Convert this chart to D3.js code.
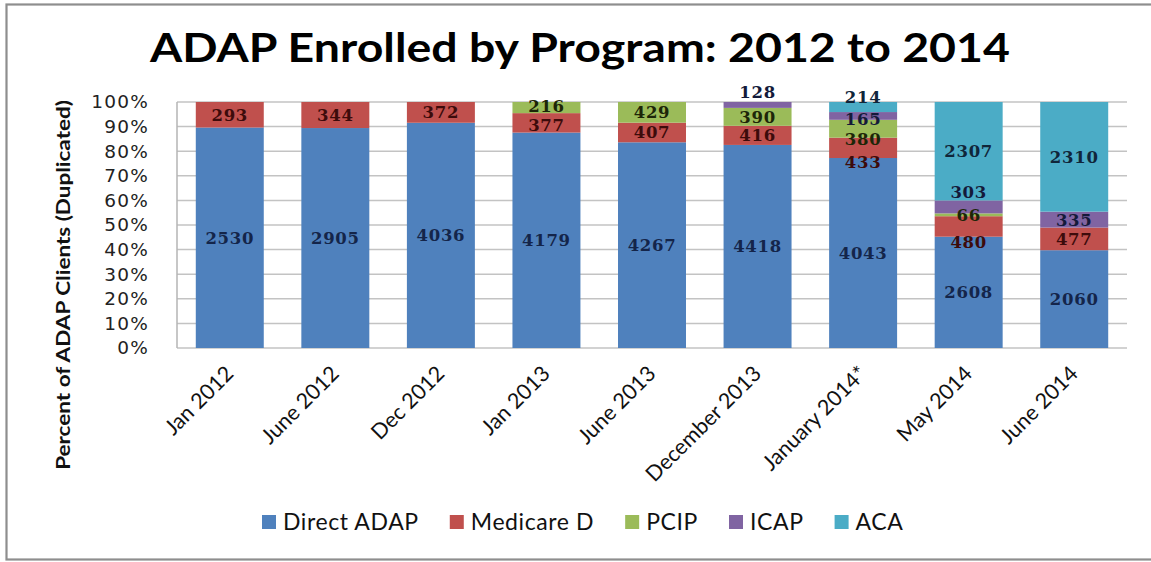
<!DOCTYPE html>
<html>
<head>
<meta charset="utf-8">
<script src="https://cdn.jsdelivr.net/npm/d3@7"></script>
<style>
  html, body { margin: 0; padding: 0; background: #fff; }
  svg { display: block; }
</style>
</head>
<body>
<svg id="chart" width="1151" height="562"></svg>
<script>
// Enrollment counts by program at each snapshot
const categories = ["Jan 2012", "June 2012", "Dec 2012", "Jan 2013", "June 2013",
                    "December 2013", "January 2014*", "May 2014", "June 2014"];
const seriesNames = ["Direct ADAP", "Medicare D", "PCIP", "ICAP", "ACA"];
const directADAP = [2530, 2905, 4036, 4179, 4267, 4418, 4043, 2608, 2060];
const medicareD  = [293, 344, 372, 377, 407, 416, 433, 480, 477];
const pcip       = [0, 0, 0, 216, 429, 390, 380, 66, 0];
const icap       = [0, 0, 0, 0, 0, 128, 165, 303, 335];
const aca        = [0, 0, 0, 0, 0, 0, 214, 2307, 2310];
const yTicks     = [0, 0.1, 0.2, 0.3, 0.4, 0.5, 0.6, 0.7, 0.8, 0.9, 1];

const seriesValues = [directADAP, medicareD, pcip, icap, aca];
const colors = ["#4F81BD", "#C0504D", "#9BBB59", "#8064A2", "#4BACC6"];
const labelColors = ["#14254a", "#3d0b0b", "#1d2608", "#141a3a", "#10263a"];

// hand-placed offsets for crowded value labels (pixels)
const labelNudge = {
  "Jan 2013|PCIP": -2,
  "Jan 2013|Medicare D": 2,
  "December 2013|ICAP": -13,
  "January 2014*|Medicare D": 14,
  "January 2014*|PCIP": 10,
  "January 2014*|ICAP": 3,
  "January 2014*|ACA": -10,
  "May 2014|Medicare D": 16,
  "May 2014|ICAP": -15
};

const rows = categories.map((c, i) => {
  const r = { category: c };
  seriesNames.forEach((s, k) => { r[s] = seriesValues[k][i]; });
  return r;
});

const svg = d3.select("#chart");
const plot = { left: 177, right: 1127, top: 102, bottom: 348 };

// outer chart frame
svg.append("rect")
  .attr("x", 6.5).attr("y", 4.5)
  .attr("width", 1170).attr("height", 555)
  .attr("fill", "#fff")
  .attr("stroke", "#8e8e8e").attr("stroke-width", 2.2);

const x = d3.scaleBand()
  .domain(categories)
  .range([plot.left, plot.right])
  .paddingInner(0.356)
  .paddingOuter(0.178);

const y = d3.scaleLinear().domain([0, 1]).range([plot.bottom, plot.top]);

// fit a text element horizontally to a target width
function fitWidth(sel, target, cx, cy, rotate) {
  const w = sel.node().getComputedTextLength();
  const s = target / w;
  sel.attr("transform", `translate(${cx},${cy})${rotate ? " rotate(-90)" : ""} scale(${s},1)`);
}

// title
const title = svg.append("text")
  .attr("text-anchor", "middle")
  .attr("font-family", "Lato, 'Open Sans', sans-serif")
  .attr("font-weight", 700)
  .attr("font-size", 40)
  .attr("fill", "#000")
  .text("ADAP Enrolled by Program: 2012 to 2014");
fitWidth(title, 860, 580, 62, false);

// horizontal gridlines
svg.append("g")
  .selectAll("line")
  .data(yTicks)
  .join("line")
  .attr("x1", plot.left).attr("x2", plot.right)
  .attr("y1", d => y(d)).attr("y2", d => y(d))
  .attr("stroke", "#c3c3c3").attr("stroke-width", 1.5);

// vertical axis line
svg.append("line")
  .attr("x1", plot.left).attr("x2", plot.left)
  .attr("y1", plot.top).attr("y2", plot.bottom)
  .attr("stroke", "#b5b5b5").attr("stroke-width", 1.5);

// y tick labels
const yAxis = d3.axisLeft(y).tickValues(yTicks).tickFormat(d3.format(".0%")).tickSize(0).tickPadding(28);
const yg = svg.append("g").attr("transform", `translate(${plot.left},0)`).call(yAxis);
yg.select(".domain").remove();
yg.selectAll("text")
  .attr("font-family", "'DejaVu Sans', Verdana, sans-serif")
  .attr("font-size", 18.5)
  .attr("letter-spacing", 1.2)
  .attr("fill", "#222");

// y axis title
const yTitle = svg.append("text")
  .attr("text-anchor", "middle")
  .attr("font-family", "Lato, 'Open Sans', sans-serif")
  .attr("font-weight", 700)
  .attr("font-size", 19)
  .attr("fill", "#111")
  .text("Percent of ADAP Clients (Duplicated)");
fitWidth(yTitle, 370, 70, 285, true);

// stacked 100% bars
const stack = d3.stack().keys(seriesNames).offset(d3.stackOffsetExpand);
const layers = stack(rows);

const gBars = svg.append("g");
layers.forEach((layer, k) => {
  gBars.append("g")
    .attr("fill", colors[k])
    .selectAll("rect")
    .data(layer.filter(d => d.data[layer.key] > 0))
    .join("rect")
    .attr("x", d => x(d.data.category))
    .attr("width", x.bandwidth())
    .attr("y", d => y(d[1]))
    .attr("height", d => y(d[0]) - y(d[1]));
});

// value labels
const gLabels = svg.append("g")
  .attr("font-family", "'DejaVu Serif', 'Liberation Serif', serif")
  .attr("font-weight", 700)
  .attr("font-size", 16.5)
  .attr("letter-spacing", 0.7)
  .attr("text-anchor", "middle");
layers.forEach((layer, k) => {
  gLabels.append("g")
    .attr("fill", labelColors[k])
    .selectAll("text")
    .data(layer.filter(d => d.data[layer.key] > 0))
    .join("text")
    .attr("x", d => x(d.data.category) + x.bandwidth() / 2)
    .attr("y", d => (y(d[0]) + y(d[1])) / 2 + (labelNudge[d.data.category + "|" + layer.key] || 0))
    .attr("dy", "0.36em")
    .text(d => d.data[layer.key]);
});

// category labels, rotated
svg.append("g")
  .selectAll("text")
  .data(categories)
  .join("text")
  .attr("transform", d => `translate(${x(d) + x.bandwidth() / 2 + 5},${plot.bottom + 27}) rotate(-45)`)
  .attr("text-anchor", "end")
  .attr("font-family", "Lato, 'Open Sans', sans-serif")
  .attr("font-size", 21.5)
  .attr("fill", "#111")
  .text(d => d);

// legend
const legend = svg.append("g")
  .attr("font-family", "Lato, 'Open Sans', sans-serif")
  .attr("font-size", 23)
  .attr("letter-spacing", 0.6);
let lx = 262;
const ly = 522;
seriesNames.forEach((s, k) => {
  legend.append("rect")
    .attr("x", lx).attr("y", ly - 7)
    .attr("width", 14).attr("height", 14)
    .attr("fill", colors[k]);
  const t = legend.append("text")
    .attr("x", lx + 21).attr("y", ly)
    .attr("dy", "0.35em")
    .attr("fill", "#111")
    .text(s);
  lx = lx + 21 + t.node().getComputedTextLength() + 31;
});
</script>
</body>
</html>
